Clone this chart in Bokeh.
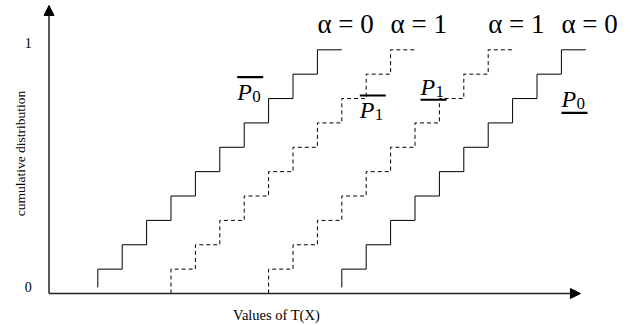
import math
from bokeh.plotting import figure
from bokeh.models import Range1d, Arrow, NormalHead
from bokeh.core.properties import value
from bokeh.embed import file_html
from bokeh.resources import INLINE

# ---- data ----
cdf_start = [2, 5, 9, 12]          # T(X) value where each cumulative distribution starts
cdf_levels = [0.1, 0.2, 0.3, 0.4, 0.5, 0.6, 0.7, 0.8, 0.9, 1.0]
cdf_base = [0.025, 0.0, 0.0, 0.025]
cdf_dashed = [False, True, True, False]
alpha_labels = ["α = 0", "α = 1", "α = 1", "α = 0"]
p_letters = ["P", "P", "P", "P"]
p_subs = ["0", "1", "1", "0"]
y_tick_values = [0, 1]
y_tick_labels = ["0", "1"]
x_label = "Values of T(X)"
y_label = "cumulative distribution"

SERIF = value("Liberation Serif")
PX = 1 / 243.7  # one vertical pixel in data units

p = figure(width=631, height=325,
           x_range=Range1d(-1.988, 23.873), y_range=Range1d(-0.1313, 1.2023),
           x_axis_type=None, y_axis_type=None,
           output_backend="svg", toolbar_location=None,
           min_border=0, min_border_left=0, min_border_right=0,
           min_border_top=0, min_border_bottom=0)
p.grid.visible = False
p.outline_line_color = None
p.background_fill_color = "white"

# staircases
for s, base, dashed in zip(cdf_start, cdf_base, cdf_dashed):
    xs = [s]
    ys = [base]
    for k, lv in enumerate(cdf_levels):
        xs += [s + k, s + k + 1]
        ys += [lv, lv]
    p.line(xs, ys, line_color="black", line_width=1,
           line_dash="4 3" if dashed else "solid")

# axes with arrows
axis_color = "#222222"
p.add_layout(Arrow(end=NormalHead(size=10, fill_color="black", line_color="black"),
                   x_start=0, y_start=0, x_end=21.78, y_end=0,
                   line_color=axis_color, line_width=1.5))
p.add_layout(Arrow(end=NormalHead(size=10, fill_color="black", line_color="black"),
                   x_start=0, y_start=0, x_end=0, y_end=1.1818,
                   line_color=axis_color, line_width=1.5))

# tick labels
p.text(x=[-0.852] * len(y_tick_values), y=[v + 0.028 for v in y_tick_values],
       text=y_tick_labels, text_font=SERIF, text_font_size=value("14px"),
       text_align="center", text_baseline="middle", text_color="black")

# axis titles
p.text(x=[9.324], y=[-0.0862], text=[x_label], text_font=SERIF,
       text_font_size=value("14.5px"), text_align="center",
       text_baseline="middle", text_color="black")
p.text(x=[-1.168], y=[0.5745], text=[y_label], text_font=SERIF,
       text_font_size=value("13.5px"), text_align="center",
       text_baseline="middle", angle=math.pi / 2, text_color="black")

# alpha labels at the top step of each distribution
p.text(x=[s + len(cdf_levels) - 1 for s in cdf_start],
       y=[1.071 + 8 * PX] * len(cdf_start),
       text=alpha_labels, text_font=SERIF, text_font_size=value("27px"),
       text_align="left", text_baseline="alphabetic", text_color="black")

# P labels
lab_x = [7.713, 12.738, 15.225, 21.004]
lab_y = [0.799, 0.7234, 0.8195, 0.7714]
bar_y = [0.8876, 0.8125, 0.795, 0.7415]
p.text(x=lab_x, y=[y + 7 * PX for y in lab_y], text=p_letters, text_font=SERIF,
       text_font_size=value("24px"), text_font_style="italic",
       text_align="left", text_baseline="alphabetic", text_color="black")
p.text(x=[x + 0.615 for x in lab_x], y=[y - 2.5 * PX + 5 * PX for y in lab_y],
       text=p_subs, text_font=SERIF, text_font_size=value("17px"),
       text_align="left", text_baseline="alphabetic", text_color="black")
p.segment(x0=lab_x, y0=bar_y, x1=[x + 1.066 for x in lab_x], y1=bar_y,
          line_color="black", line_width=2.2)

open("out.html", "w").write(file_html(p, INLINE))
